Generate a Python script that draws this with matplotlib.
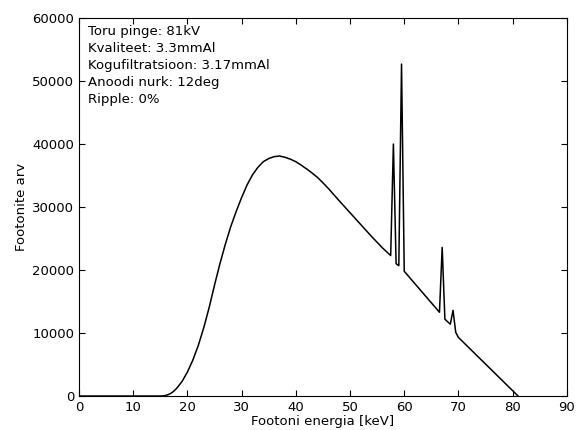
import matplotlib
matplotlib.use("Agg")
import matplotlib.pyplot as plt

# spectrum
energy_kev = [
    0, 15, 15.5, 16, 16.5, 17, 17.5, 18, 19, 20, 21, 22, 23, 24, 25, 26,
    27, 28, 29, 30, 31, 32, 33, 34, 35, 36, 37, 38, 39, 40, 41, 42, 43,
    44, 45, 46, 48, 50, 52, 54, 56, 57.5, 58, 58.5, 59, 59.5, 60, 66.5,
    67, 67.5, 68.5, 69, 69.5, 70, 81,
]
photon_count = [
    0, 0, 25, 100, 240, 450, 780, 1200, 2300, 3800, 5700, 8000, 10800,
    14000, 17600, 21000, 24100, 26900, 29300, 31500, 33500, 35100, 36300,
    37200, 37700, 38000, 38100, 37900, 37600, 37200, 36650, 36050, 35400,
    34700, 33850, 32950, 31000, 29100, 27200, 25300, 23500, 22300, 40000,
    21000, 20700, 52700, 19800, 13300, 23600, 12200, 11400, 13600, 10100,
    9300, 0,
]

info_lines = [
    "Toru pinge: 81kV",
    "Kvaliteet: 3.3mmAl",
    "Kogufiltratsioon: 3.17mmAl",
    "Anoodi nurk: 12deg",
    "Ripple: 0%",
]
x_ticks = list(range(0, 91, 10))
y_ticks = list(range(0, 60001, 10000))

plt.rcParams.update({
    "font.family": "DejaVu Sans",
    "font.size": 9.5,
    "xtick.direction": "in",
    "ytick.direction": "in",
    "xtick.top": True,
    "ytick.right": True,
    "xtick.major.size": 4,
    "ytick.major.size": 4,
})

fig = plt.figure(figsize=(5.85, 4.30), dpi=100)
ax = fig.add_axes([0.135, 0.079, 0.834, 0.879])
ax.plot(energy_kev, photon_count, color="black", linewidth=1.1)

ax.set_xlim(0, 90)
ax.set_ylim(0, 60000)
ax.set_xticks(x_ticks)
ax.set_yticks(y_ticks)
ax.set_xlabel("Footoni energia [keV]", labelpad=1)
ax.set_ylabel("Footonite arv", labelpad=3)
ax.text(0.018, 0.981, "\n".join(info_lines), transform=ax.transAxes,
        va="top", ha="left", linespacing=1.4)

fig.savefig("out.png", dpi=100, facecolor="white")
